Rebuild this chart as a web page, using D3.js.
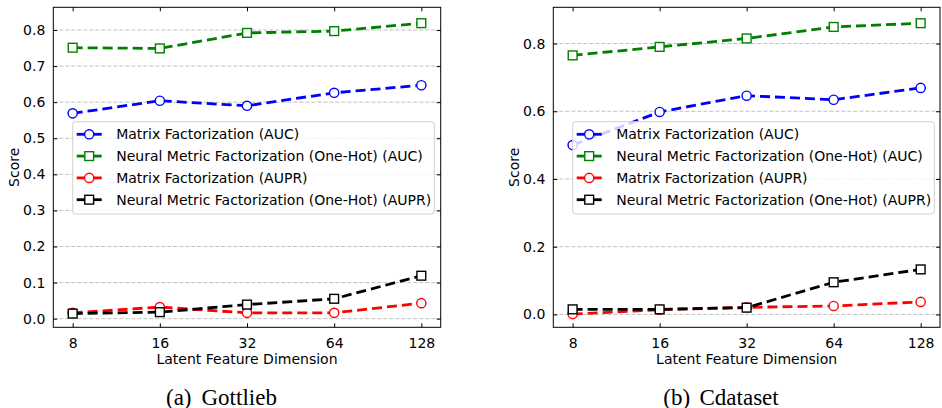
<!DOCTYPE html>
<html><head><meta charset="utf-8">
<script src="https://cdn.jsdelivr.net/npm/d3@7/dist/d3.min.js"></script>
<style>body{margin:0;background:#fff}svg{display:block}</style>
</head><body>
<svg id="c" width="942" height="408"></svg>
<script>
// ---- data ----
const dims = [8, 16, 32, 64, 128];
const seriesNames = [
  "Matrix Factorization (AUC)",
  "Neural Metric Factorization (One-Hot) (AUC)",
  "Matrix Factorization (AUPR)",
  "Neural Metric Factorization (One-Hot) (AUPR)"
];
const gottliebMF_AUC   = [0.569, 0.604, 0.590, 0.626, 0.647];
const gottliebNMF_AUC  = [0.751, 0.749, 0.792, 0.797, 0.819];
const gottliebMF_AUPR  = [0.016, 0.032, 0.016, 0.016, 0.043];
const gottliebNMF_AUPR = [0.014, 0.018, 0.039, 0.055, 0.119];
const cdMF_AUC   = [0.500, 0.598, 0.646, 0.634, 0.669];
const cdNMF_AUC  = [0.765, 0.790, 0.815, 0.849, 0.860];
const cdMF_AUPR  = [0.001, 0.014, 0.021, 0.025, 0.037];
const cdNMF_AUPR = [0.015, 0.015, 0.020, 0.095, 0.133];
const gottliebTicks = [0.0, 0.1, 0.2, 0.3, 0.4, 0.5, 0.6, 0.7, 0.8];
const cdTicks = [0.0, 0.2, 0.4, 0.6, 0.8];
const captions = [["(a)", "Gottlieb"], ["(b)", "Cdataset"]];

// ---- styles ----
const colors = ["#0000ff", "#008000", "#ff0000", "#000000"];
const shapes = ["circle", "square", "circle", "square"];
const FONT = "'DejaVu Sans', sans-serif";
const SERIF = "'Liberation Serif', 'Times New Roman', serif";
const AX_FS = 14, LEG_FS = 14;

const svg = d3.select("#c");

const panels = [
  {x0: 53.3, x1: 440.7, y0: 7.3, y1: 327.3, ydom: [-0.024, 0.863], ticks: gottliebTicks,
   data: [gottliebMF_AUC, gottliebNMF_AUC, gottliebMF_AUPR, gottliebNMF_AUPR], cap: captions[0],
   capX: [166, 201.5], labX: 13},
  {x0: 553.3, x1: 940, y0: 7.3, y1: 327.3, ydom: [-0.038, 0.907], ticks: cdTicks,
   data: [cdMF_AUC, cdNMF_AUC, cdMF_AUPR, cdNMF_AUPR], cap: captions[1],
   capX: [663.3, 699.5], labX: 513}
];

panels.forEach(p => {
  const w = p.x1 - p.x0;
  const pad = w * 0.05;
  const x = d3.scaleLog().base(2).domain([8, 128]).range([p.x0 + pad, p.x1 - pad]);
  const y = d3.scaleLinear().domain(p.ydom).range([p.y1, p.y0]);
  const g = svg.append("g");

  // grid
  g.append("g").selectAll("line").data(p.ticks).join("line")
    .attr("x1", p.x0).attr("x2", p.x1)
    .attr("y1", d => y(d)).attr("y2", d => y(d))
    .attr("stroke", "#b0b0b0").attr("stroke-width", 0.8).attr("stroke-dasharray", "4,2");

  // axes (ticks inward)
  const fmt = d3.format(".1f");
  const yl = g.append("g").attr("transform", `translate(${p.x0},0)`)
    .call(d3.axisLeft(y).tickValues(p.ticks).tickFormat(fmt).tickSizeInner(-4).tickSizeOuter(0).tickPadding(8));
  const yr = g.append("g").attr("transform", `translate(${p.x1},0)`)
    .call(d3.axisRight(y).tickValues(p.ticks).tickFormat("").tickSizeInner(-4).tickSizeOuter(0));
  const xb = g.append("g").attr("transform", `translate(0,${p.y1})`)
    .call(d3.axisBottom(x).tickValues(dims).tickFormat(d3.format("d")).tickSizeInner(-4).tickSizeOuter(0).tickPadding(11));
  const xt = g.append("g").attr("transform", `translate(0,${p.y0})`)
    .call(d3.axisTop(x).tickValues(dims).tickFormat("").tickSizeInner(-4).tickSizeOuter(0));
  [yl, yr, xb, xt].forEach(a => {
    a.select(".domain").remove();
    a.selectAll("line").attr("stroke", "#000").attr("stroke-width", 1);
    a.selectAll("text").attr("font-family", FONT).attr("font-size", AX_FS).attr("fill", "#000");
  });
  // frame
  g.append("rect").attr("x", p.x0).attr("y", p.y0).attr("width", w).attr("height", p.y1 - p.y0)
    .attr("fill", "none").attr("stroke", "#000").attr("stroke-width", 1);

  // series
  const line = d3.line().x((d, i) => x(dims[i])).y(d => y(d));
  p.data.forEach((vals, si) => {
    const sg = g.append("g");
    sg.append("path").datum(vals).attr("d", line)
      .attr("fill", "none").attr("stroke", colors[si]).attr("stroke-width", 2.8)
      .attr("stroke-dasharray", "10,5");
    drawMarkers(sg, vals.map((v, i) => [x(dims[i]), y(v)]), si);
  });

  // legend
  const lx = p.x0 + 19.4, ly = 121.7, lw = 361.6, lh = 92.3;
  const lg = g.append("g");
  lg.append("rect").attr("x", lx).attr("y", ly).attr("width", lw).attr("height", lh)
    .attr("rx", 3).attr("fill", "#fff").attr("fill-opacity", 0.8)
    .attr("stroke", "#d0d0d0").attr("stroke-width", 1);
  seriesNames.forEach((name, si) => {
    const cy = 134.3 + si * 21.8;
    lg.append("line").attr("x1", lx + 4).attr("x2", lx + 29).attr("y1", cy).attr("y2", cy)
      .attr("stroke", colors[si]).attr("stroke-width", 2.8);
    drawMarkers(lg, [[lx + 16.5, cy]], si);
    lg.append("text").attr("x", lx + 43.5).attr("y", cy).attr("dy", "0.36em")
      .attr("font-family", FONT).attr("font-size", LEG_FS).attr("fill", "#000").text(name);
  });

  // axis labels
  g.append("text").attr("x", (p.x0 + p.x1) / 2).attr("y", 364)
    .attr("text-anchor", "middle").attr("font-family", FONT).attr("font-size", AX_FS)
    .text("Latent Feature Dimension");
  g.append("text").attr("transform", `translate(${p.labX + 5.5},${(p.y0 + p.y1) / 2}) rotate(-90)`)
    .attr("text-anchor", "middle").attr("font-family", FONT).attr("font-size", AX_FS)
    .text("Score");

  // caption
  g.append("text").attr("x", p.capX[0]).attr("y", 404.5)
    .attr("font-family", SERIF).attr("font-size", 23).text(p.cap[0]);
  g.append("text").attr("x", p.capX[1]).attr("y", 404.5)
    .attr("font-family", SERIF).attr("font-size", 23).text(p.cap[1]);
});

function drawMarkers(sel, pts, si) {
  if (shapes[si] === "circle") {
    sel.selectAll(null).data(pts).join("circle")
      .attr("cx", d => d[0]).attr("cy", d => d[1]).attr("r", 4.6)
      .attr("fill", "#fff").attr("stroke", colors[si]).attr("stroke-width", 1.4);
  } else {
    sel.selectAll(null).data(pts).join("rect")
      .attr("x", d => d[0] - 4.4).attr("y", d => d[1] - 4.4).attr("width", 8.8).attr("height", 8.8)
      .attr("fill", "#fff").attr("stroke", colors[si]).attr("stroke-width", 1.4);
  }
}
</script>
</body></html>
